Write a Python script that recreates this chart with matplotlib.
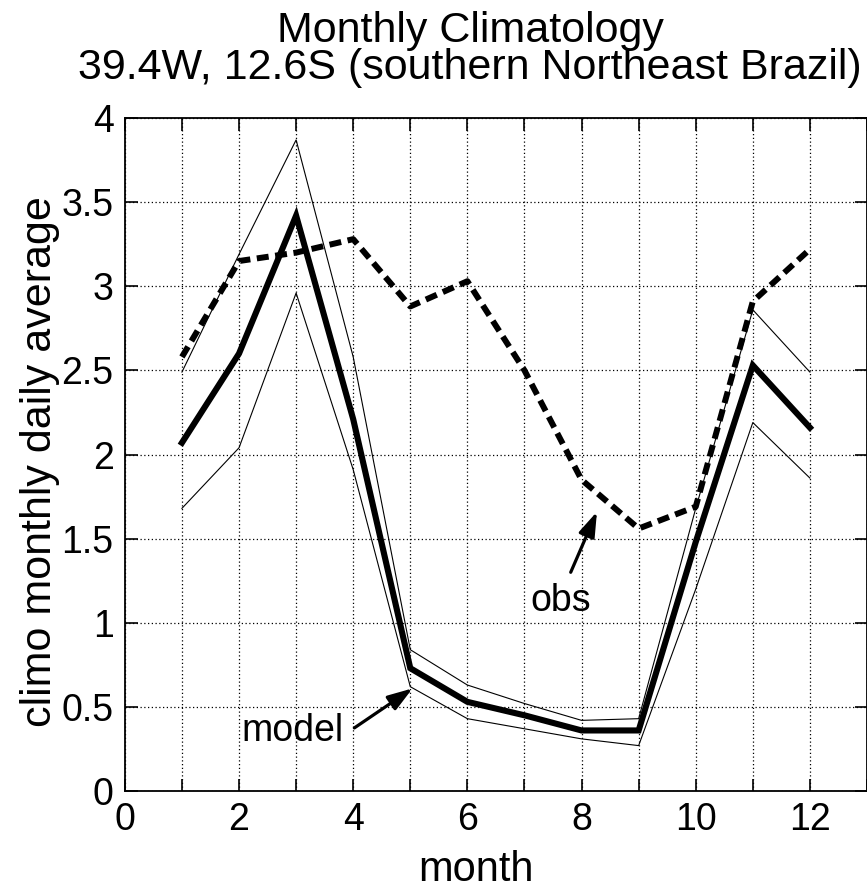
import matplotlib
matplotlib.use("Agg")
import matplotlib.pyplot as plt
from matplotlib.ticker import MultipleLocator

months = [1, 2, 3, 4, 5, 6, 7, 8, 9, 10, 11, 12]
obs = [2.58, 3.15, 3.20, 3.28, 2.88, 3.03, 2.50, 1.85, 1.56, 1.69, 2.91, 3.22]
model = [2.07, 2.60, 3.42, 2.21, 0.73, 0.53, 0.45, 0.36, 0.36, 1.48, 2.53, 2.16]
model_upper = [2.49, 3.19, 3.87, 2.58, 0.84, 0.63, 0.52, 0.42, 0.43, 1.68, 2.86, 2.49]
model_lower = [1.68, 2.04, 2.96, 1.91, 0.62, 0.43, 0.37, 0.31, 0.27, 1.20, 2.19, 1.86]
xticks = [0, 2, 4, 6, 8, 10, 12]
yticks = [0, 0.5, 1, 1.5, 2, 2.5, 3, 3.5, 4]

plt.rcParams['font.family'] = ['Liberation Sans', 'DejaVu Sans']
FS = 27
FS_BIG = 31

fig = plt.figure(figsize=(8.67, 8.92), dpi=100)
ax = fig.add_axes([0.144, 0.1132, 0.856, 0.7545])

ax.plot(months, model_upper, color='black', lw=0.8)
ax.plot(months, model_lower, color='black', lw=0.8)
ax.plot(months, model, color='black', lw=4.4, solid_joinstyle='miter')
ax.plot(months, obs, color='black', lw=4.3, dashes=(2.0, 1.1))

ax.set_xlim(0, 13)
ax.set_ylim(0, 4)
ax.set_xticks(xticks)
ax.xaxis.set_minor_locator(MultipleLocator(1))
ax.set_yticks(yticks)
ax.set_yticklabels([f"{v:g}" for v in yticks])
ax.grid(True, which='both', color='black', linestyle=(0, (1, 2)), lw=0.9)
ax.tick_params(which='both', direction='in', top=True, right=True,
               length=9, width=1.2, labelsize=FS, pad=8)
for s in ax.spines.values():
    s.set_linewidth(1.3)

ax.set_xlabel('month', fontsize=30)
ax.xaxis.set_label_coords(0.473, -0.088)
ax.xaxis.label.set_va('top')
ax.set_ylabel('climo monthly daily average', fontsize=FS_BIG)
ax.yaxis.set_label_coords(-0.088, 0.49)
ax.set_title('Monthly Climatology\n39.4W, 12.6S (southern Northeast Brazil)',
             fontsize=FS_BIG, linespacing=0.9, pad=28, x=0.465)

arrowprops = dict(arrowstyle='-|>,head_length=0.75,head_width=0.25',
                  mutation_scale=20, color='black', lw=2.3,
                  shrinkA=0, shrinkB=0)
ax.annotate('', xy=(5.04, 0.61), xytext=(4.02, 0.375), arrowprops=arrowprops)
ax.text(2.93, 0.355, 'model', fontsize=FS, ha='center', va='center')
ax.annotate('', xy=(8.27, 1.66), xytext=(7.81, 1.30), arrowprops=arrowprops)
ax.text(7.64, 1.13, 'obs', fontsize=FS, ha='center', va='center')

fig.savefig('out.png', dpi=100)
